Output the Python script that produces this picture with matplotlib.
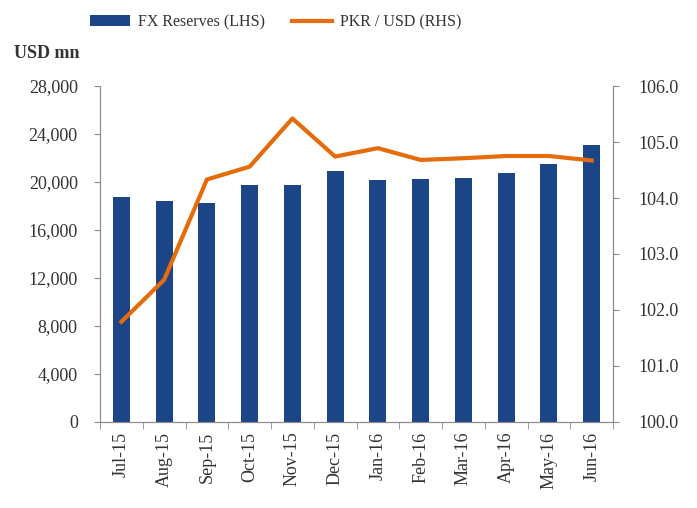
import numpy as np
import matplotlib.pyplot as plt
from matplotlib.ticker import FuncFormatter

# Data
months = ['Jul-15', 'Aug-15', 'Sep-15', 'Oct-15', 'Nov-15', 'Dec-15',
          'Jan-16', 'Feb-16', 'Mar-16', 'Apr-16', 'May-16', 'Jun-16']
fx_reserves = [18720, 18420, 18280, 19750, 19780, 20920,
               20170, 20220, 20360, 20720, 21500, 23060]
pkr_usd = [101.79, 102.54, 104.33, 104.56, 105.42, 104.74,
           104.89, 104.68, 104.71, 104.75, 104.75, 104.67]

plt.rcParams['font.family'] = ['Liberation Serif', 'DejaVu Serif']
txt = '#333333'
spine_c = '#8c8c8c'

fig = plt.figure(figsize=(6.97, 5.08), dpi=100)
ax = fig.add_axes([0.1435, 0.1693, 0.736, 0.6614])
ax2 = ax.twinx()

x = np.arange(len(months))
bars = ax.bar(x, fx_reserves, width=0.4, color='#1c4587', zorder=2,
              label='FX Reserves (LHS)')
line, = ax2.plot(x, pkr_usd, color='#e46c0a', lw=3, zorder=3,
                 label='PKR / USD (RHS)')

ax.set_xlim(-0.5, len(months) - 0.5)
ax.set_ylim(0, 28000)
ax.set_yticks(np.arange(0, 28001, 4000))
ax.yaxis.set_major_formatter(FuncFormatter(lambda v, p: f'{int(v):,}'))
ax2.set_ylim(100, 106)
ax2.set_yticks(np.arange(100, 106.1, 1))
ax2.yaxis.set_major_formatter(FuncFormatter(lambda v, p: f'{v:.1f}'))

ax.set_xticks(x)
ax.set_xticklabels(months, rotation=90, fontsize=13, color=txt)
ax.set_xticks(np.arange(-0.5, len(months), 1), minor=True)
ax.tick_params(axis='x', which='major', length=0, pad=7)
ax.tick_params(axis='x', which='minor', length=5, color=spine_c)
ax.tick_params(axis='y', labelsize=13, labelcolor=txt, length=4,
               color=spine_c, pad=12)
ax2.tick_params(axis='y', labelsize=13, labelcolor=txt, length=4,
                color=spine_c, pad=14)

for a in (ax, ax2):
    a.spines['top'].set_visible(False)
    for s in ('left', 'right', 'bottom'):
        a.spines[s].set_color(spine_c)

ax.set_zorder(ax2.get_zorder() - 1)
ax2.patch.set_visible(False)

fig.text(0.02, 0.885, 'USD mn', fontsize=13, fontweight='bold', color=txt)
fig.legend(handles=[bars, line], loc='upper center', ncol=2,
           bbox_to_anchor=(0.395, 1.0), frameon=False, fontsize=11.5,
           handlelength=2.5, handletextpad=0.5, columnspacing=1.7,
           labelcolor=txt)

fig.savefig('out.png', dpi=100)
